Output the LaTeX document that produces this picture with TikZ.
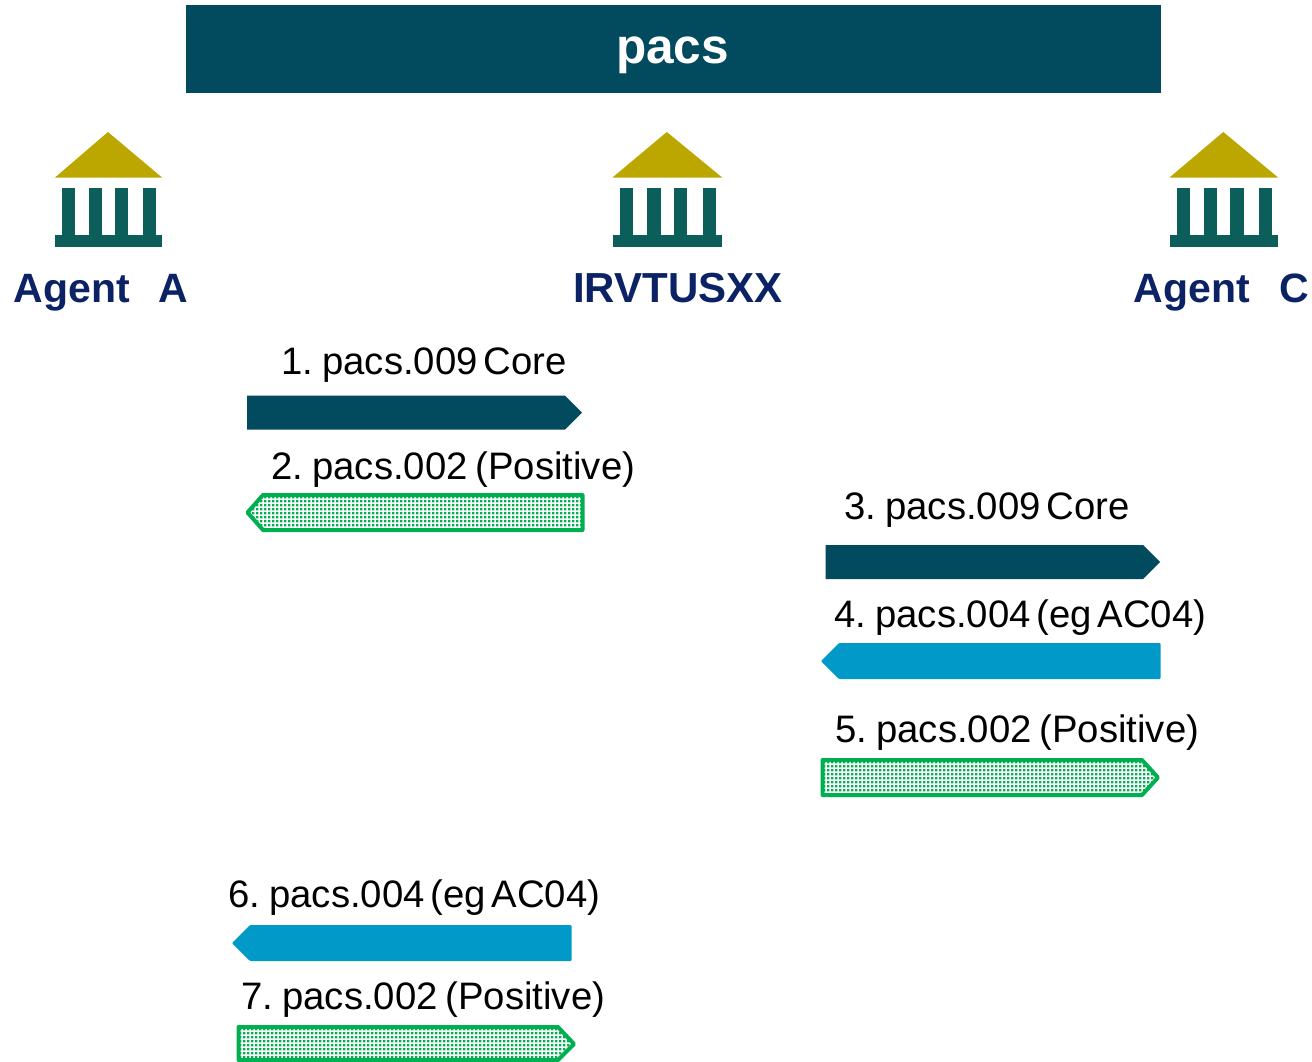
\documentclass[tikz,border=0pt]{standalone}
\usepackage{fontspec}
\setmainfont{Liberation Sans}
\newfontfamily\msgfont[WordSpace=0.535]{Liberation Sans}
\definecolor{bannerteal}{HTML}{024B5F}
\definecolor{roofgold}{HTML}{BBA700}
\definecolor{columngreen}{HTML}{0C5E5A}
\definecolor{agentnavy}{HTML}{0B2265}
\definecolor{msgblue}{HTML}{0099C8}
\definecolor{msggreen}{HTML}{00B050}
\tikzset{
  x=1pt,y=-1pt,
  banner/.style={fill=bannerteal,draw=none},
  bannertext/.style={font=\bfseries\fontsize{49.5}{54}\selectfont,text=white,inner sep=0pt,anchor=base},
  agentlabel/.style={font=\bfseries\fontsize{41}{46}\selectfont,text=agentnavy,inner sep=0pt,anchor=base west},
  msglabel/.style={font=\msgfont\fontsize{38.3}{42}\selectfont,text=black,inner sep=0pt,anchor=base west},
  solidteal/.style={fill=bannerteal,draw=none},
  solidblue/.style={fill=msgblue,draw=none,rounded corners=1pt},
  greenoutline/.style={draw=msggreen,line width=4pt,line join=round},
}
\newcommand{\bank}[2]{%
  \begin{scope}[shift={(#1,0)},xscale=#2]
    \fill[roofgold] (0,177.5) -- (53,132) -- (107,177.5) -- cycle;
    \fill[columngreen] (0,235) rectangle (107,246.5);
    \fill[columngreen] (7,188) rectangle (20,236);
    \fill[columngreen] (34,188) rectangle (47,236);
    \fill[columngreen] (60,188) rectangle (73,236);
    \fill[columngreen] (88,188) rectangle (101,236);
  \end{scope}}
% #1 outline path, #2 left x, #3 right x, #4 top y, #5 bottom y
\newcommand{\stippled}[5]{%
  \begin{scope}
    \clip #1;
    \fill[msggreen] \foreach \py in {#4,\the\numexpr#4+4\relax,...,#5} {
      \foreach \px in {#2,\the\numexpr#2+4\relax,...,#3} {
        (\px,\py) rectangle ++(2.3,2.3)
      }};
  \end{scope}
  \path[greenoutline] #1;}
\begin{document}
\begin{tikzpicture}
\useasboundingbox (0,0) rectangle (1312,1061);
\fill[banner] (186,5) rectangle (1161,93);
\node[bannertext] (title) at (672.5,63.5) {pacs};
\bank{55}{1}
\bank{612.5}{1.025}
\bank{1169.5}{1.015}
\node[agentlabel] (agenta) at (13.5,302.5) {Agent\hspace{28.5pt}A};
\node[agentlabel,font=\bfseries\fontsize{42}{46}\selectfont] (irv) at (573,302.5) {IRVTUSXX};
\node[agentlabel] (agentc) at (1133.5,302.5) {Agent\hspace{29.5pt}C};
\node[msglabel] (l1) at (281,374) {1. pacs.009 Core};
\fill[solidteal] (247,395.5) -- (565,395.5) -- (582,412.5) -- (565,429.5) -- (247,429.5) -- cycle;
\node[msglabel] (l2) at (271,479) {2. pacs.002\hspace{2pt} (Positive)};
\stippled{(582.5,495) -- (263,495) -- (247.5,512.5) -- (263,530) -- (582.5,530) -- cycle}{248}{584}{496}{530}
\node[msglabel] (l3) at (844,519) {3. pacs.009 Core};
\fill[solidteal] (825.5,545) -- (1143,545) -- (1160,562) -- (1143,579) -- (825.5,579) -- cycle;
\node[msglabel] (l4) at (834,627) {4. pacs.004 (eg AC04)};
\fill[solidblue] (1160.5,643) -- (839,643) -- (821,661) -- (839,679) -- (1160.5,679) -- cycle;
\node[msglabel] (l5) at (835,742) {5. pacs.002\hspace{2pt} (Positive)};
\stippled{(822.5,760) -- (1142,760) -- (1158,777.5) -- (1142,795) -- (822.5,795) -- cycle}{823}{1159}{761}{795}
\node[msglabel] (l6) at (228,907) {6. pacs.004 (eg AC04)};
\fill[solidblue] (571.5,925) -- (250,925) -- (232,943) -- (250,961) -- (571.5,961) -- cycle;
\node[msglabel] (l7) at (241,1009) {7. pacs.002\hspace{2pt} (Positive)};
\stippled{(238.5,1027) -- (558,1027) -- (574,1044) -- (558,1060) -- (238.5,1060) -- cycle}{239}{575}{1028}{1060}
\end{tikzpicture}
\end{document}
